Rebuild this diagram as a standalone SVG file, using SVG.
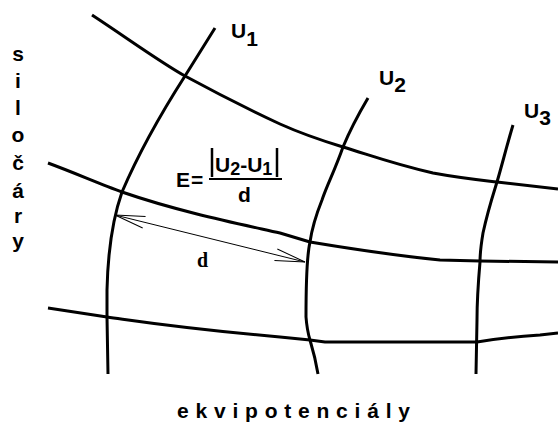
<svg xmlns="http://www.w3.org/2000/svg" width="558" height="423" viewBox="0 0 558 423">
<style>
.ln{fill:none;stroke:#000;stroke-width:3;stroke-linejoin:round;stroke-linecap:butt}
.t{font-family:"Liberation Sans",Arial,sans-serif;font-weight:bold;font-size:21px;fill:#000}
.v{text-anchor:middle}
.s{font-family:"Liberation Serif","Times New Roman",serif;font-weight:bold;font-size:20px;fill:#000}
</style>
<defs>
<marker id="ah" markerUnits="userSpaceOnUse" markerWidth="40" markerHeight="20" viewBox="-32 -10 34 20" refX="0" refY="0" orient="auto-start-reverse">
<path d="M-30,-6 L0,0 L-30,6" fill="none" stroke="#000" stroke-width="1"/>
</marker>
</defs>
<rect width="558" height="423" fill="#fff"/>
<g id="silocary">
<path class="ln" d="M92,15 C130,40 160,62 185,76 C220,95 250,110 280,124 C300,133 320,140 343,147 C370,155 390,163 433,173 C460,178 480,180 497,182 L558,189"/>
<path class="ln" d="M48,163 C75,173 100,184 122,192 C180,212 240,224 280,233 L310,242 C340,247 400,256 440,260 L480,261 L558,262"/>
<path class="ln" d="M48,308 L107,317 C150,323 180,328 280,337 L310,340 L325,342 L477,342 C495,339 510,337 540,335 L558,333"/>
</g>
<g id="ekvipotencialy">
<path class="ln" d="M215,28 C205,44 195,60 185,76 C160,115 140,150 122,192 C114,215 108,245 107,290 L107,317 L108,374"/>
<path class="ln" d="M368,98 C358,115 350,130 343,147 C335,170 327,185 322,200 C316,215 312,228 310,242 C307,255 306,275 306,317 C307,330 310,340 310,340 C313,350 316,362 318,374"/>
<path class="ln" d="M513,125 C507,145 502,165 497,182 C493,195 488,210 483,233 C481,245 480,255 480,262 C478,285 477,300 477,320 L476,374"/>
</g>
<g id="connectors">
<line x1="115" y1="215" x2="305" y2="262" stroke="#000" stroke-width="1" marker-start="url(#ah)" marker-end="url(#ah)"/>
</g>
<g id="label-d">
<text class="s" x="197" y="267">d</text>
</g>
<g id="formula">
<text class="t" x="176" y="187" font-size="20">E</text>
<text class="t" x="191" y="187" font-size="20">=</text>
<line x1="212" y1="148" x2="212" y2="177" stroke="#000" stroke-width="2.5"/>
<line x1="277" y1="148" x2="277" y2="177" stroke="#000" stroke-width="2.5"/>
<text class="t" x="215" y="172" font-size="20">U<tspan dy="3" font-size="18">2</tspan><tspan dy="-3">-U</tspan><tspan dy="3" font-size="18">1</tspan></text>
<line x1="209" y1="179" x2="282" y2="179" stroke="#000" stroke-width="2"/>
<text class="t" x="238" y="202" font-size="20">d</text>
</g>
<g id="label-U1"><text class="t" x="231" y="38">U<tspan dy="8">1</tspan></text></g>
<g id="label-U2"><text class="t" x="379" y="85">U<tspan dy="7">2</tspan></text></g>
<g id="label-U3"><text class="t" x="524" y="118">U<tspan dy="7">3</tspan></text></g>
<g id="label-silocary">
<text class="t v" x="18" y="61">s</text>
<text class="t v" x="18" y="88">i</text>
<text class="t v" x="18" y="115">l</text>
<text class="t v" x="18" y="142">o</text>
<text class="t v" x="18" y="170">č</text>
<text class="t v" x="18" y="198">á</text>
<text class="t v" x="18" y="223">r</text>
<text class="t v" x="18" y="248">y</text>
</g>
<g id="label-ekvipotencialy">
<text class="t" x="177" y="418" textLength="233" lengthAdjust="spacing">e k v i p o t e n c i á l y</text>
</g>
</svg>
